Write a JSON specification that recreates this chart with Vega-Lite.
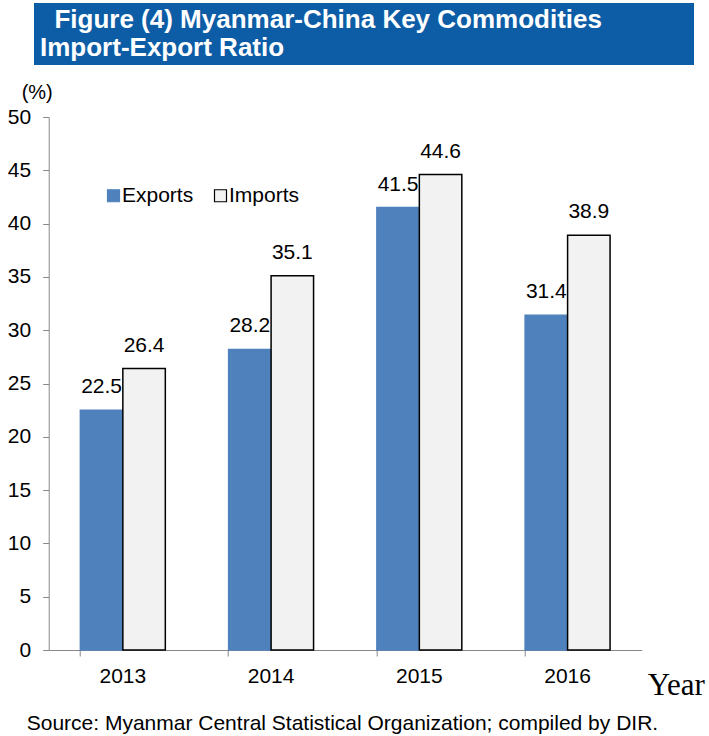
{
  "$schema": "https://vega.github.io/schema/vega-lite/v6.json",
  "padding": {"left": 7, "top": 3, "right": -11, "bottom": 0},
  "background": "white",
  "config": {
    "font": "Liberation Sans",
    "view": {"stroke": null},
    "axis": {"grid": false, "domainColor": "#888888", "tickColor": "#888888", "labelColor": "black", "titleColor": "black", "labelFont": "Liberation Sans", "titleFont": "Liberation Sans"}
  },
  "spacing": 17,
  "center": true,
  "vconcat": [
    {
      "width": 660,
      "height": 62,
      "data": {"values": [{"box": "title"}]},
      "mark": {"type": "rect", "color": "#0C5DA6"},
      "encoding": {
        "y": {
          "datum": 0,
          "type": "quantitative",
          "scale": {"domain": [0, 1], "nice": false, "zero": false},
          "axis": {"orient": "right", "offset": 25, "labels": false, "ticks": false, "title": null, "domainOpacity": 0, "grid": false}
        },
        "y2": {"datum": 1}
      },
      "title": {
        "text": ["\u200b\u00a0\u00a0Figure (4) Myanmar-China Key Commodities", "Import-Export Ratio"],
        "color": "white",
        "font": "Liberation Sans",
        "fontWeight": "bold",
        "fontSize": 26,
        "lineHeight": 28,
        "anchor": "start",
        "frame": "group",
        "orient": "top",
        "offset": -58,
        "dx": 6
      }
    },
    {
      "width": 593,
      "height": 533,
      "data": {
        "values": [
          {"year": "2013", "series": "Exports", "value": 22.5},
          {"year": "2013", "series": "Imports", "value": 26.4},
          {"year": "2014", "series": "Exports", "value": 28.2},
          {"year": "2014", "series": "Imports", "value": 35.1},
          {"year": "2015", "series": "Exports", "value": 41.5},
          {"year": "2015", "series": "Imports", "value": 44.6},
          {"year": "2016", "series": "Exports", "value": 31.4},
          {"year": "2016", "series": "Imports", "value": 38.9}
        ]
      },
      "title": {
        "text": "Source: Myanmar Central Statistical Organization; compiled by DIR.",
        "orient": "bottom",
        "anchor": "start",
        "frame": "group",
        "font": "Liberation Sans",
        "fontWeight": "normal",
        "fontSize": 21,
        "color": "black",
        "dx": -22,
        "offset": 13
      },
      "encoding": {
        "x": {
          "field": "year",
          "type": "nominal",
          "scale": {"paddingInner": 0.427, "paddingOuter": 0.2135},
          "axis": {
            "labelAngle": 0,
            "labelFontSize": 21,
            "labelPadding": 9,
            "tickSize": 6,
            "bandPosition": 0,
            "title": "Year",
            "titleFont": "Liberation Serif",
            "titleFontSize": 31,
            "titleFontWeight": "normal",
            "titleX": 627,
            "titleY": 35,
            "titleAlign": "center",
            "titleBaseline": "middle"
          }
        },
        "xOffset": {"field": "series", "type": "nominal", "sort": ["Exports", "Imports"]},
        "y": {
          "field": "value",
          "type": "quantitative",
          "scale": {"domain": [0, 50]},
          "axis": {
            "values": [0, 5, 10, 15, 20, 25, 30, 35, 40, 45, 50],
            "labelFontSize": 21,
            "labelPadding": 12,
            "tickSize": 6,
            "title": "(%)",
            "titleAngle": 0,
            "titleFontSize": 20,
            "titleFontWeight": "normal",
            "titleX": -12,
            "titleY": -25,
            "titleAlign": "center",
            "titleBaseline": "middle"
          }
        }
      },
      "layer": [
        {
          "mark": {"type": "bar", "strokeWidth": 1.5},
          "encoding": {
            "color": {
              "field": "series",
              "type": "nominal",
              "scale": {"domain": ["Exports", "Imports"], "range": ["#4F81BD", "#F2F2F2"]},
              "legend": {
                "title": null,
                "orient": "none",
                "legendX": 69,
                "legendY": 182,
                "direction": "horizontal",
                "symbolType": "square",
                "symbolSize": 144,
                "symbolStrokeWidth": 1.2,
                "labelFontSize": 21,
                "labelFont": "Liberation Sans",
                "labelColor": "black",
                "labelOffset": -2,
                "columnPadding": 16
              }
            },
            "stroke": {
              "field": "series",
              "type": "nominal",
              "scale": {"domain": ["Exports", "Imports"], "range": ["#4F81BD", "black"]},
              "legend": {
                "title": null,
                "orient": "none",
                "legendX": 69,
                "legendY": 182,
                "direction": "horizontal",
                "symbolType": "square",
                "symbolSize": 144,
                "symbolStrokeWidth": 1.2,
                "labelFontSize": 21,
                "labelFont": "Liberation Sans",
                "labelColor": "black",
                "labelOffset": -2,
                "columnPadding": 16
              }
            }
          }
        },
        {
          "mark": {"type": "text", "fontSize": 21, "font": "Liberation Sans", "color": "black", "baseline": "alphabetic", "dy": -17},
          "encoding": {
            "text": {"field": "value", "type": "quantitative", "format": ".1f"}
          }
        }
      ]
    }
  ]
}
